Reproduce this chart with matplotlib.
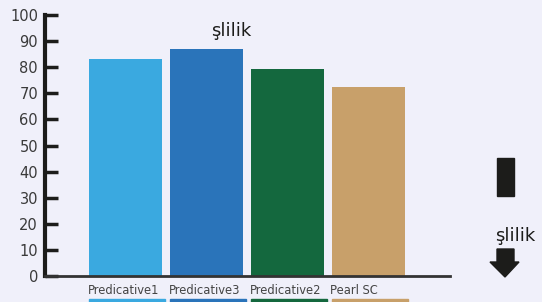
import matplotlib
matplotlib.use("Agg")
import matplotlib.pyplot as plt
from matplotlib.patches import Rectangle, Polygon

categories = ["Predicative1", "Predicative3", "Predicative2", "Pearl SC"]
values = [83, 87, 79.3, 72.4]
colors = ["#3AA9E0", "#2A74BA", "#14683E", "#C8A06A"]
yticks = [0, 10, 20, 30, 40, 50, 60, 70, 80, 90, 100]

bg = "#F0F0FA"
ink = "#1C1C1A"

fig = plt.figure(figsize=(5.42, 3.02), dpi=100, facecolor=bg)
ax = fig.add_axes([45 / 542, 26 / 302, 405 / 542, 261 / 302])
ax.set_facecolor(bg)

x = list(range(len(categories)))
ax.bar(x, values, width=0.9, color=colors)

ax.set_xlim(-0.994, 4.006)
ax.set_ylim(0, 100)
ax.set_yticks(yticks)
ax.set_xticks([])
ax.tick_params(axis="y", direction="in", length=9, width=2.5, color=ink,
               labelsize=10.5, labelcolor="#3A3A3A", pad=5)
for s in ["top", "right"]:
    ax.spines[s].set_visible(False)
ax.spines["left"].set_linewidth(3)
ax.spines["left"].set_color(ink)
ax.spines["bottom"].set_linewidth(2)
ax.spines["bottom"].set_color("#333333")

# category labels and colour strips under the axis
for i, (name, c) in enumerate(zip(categories, colors)):
    ax.text(i - 0.47, -3.2, name, ha="left", va="top", fontsize=8.3,
            color="#444444", clip_on=False)
    ax.add_patch(Rectangle((i - 0.45, -9.0), 0.94, -3, color=c, clip_on=False))

ax.text(1.3, 94, "şlilik", ha="center", va="center", fontsize=13, color=ink)

# side marks
fig.patches.append(Rectangle((497 / 542, 1 - 196 / 302), 17 / 542, 38 / 302,
                             transform=fig.transFigure, color=ink))
fig.text(515 / 542, 1 - 236 / 302, "şlilik", ha="center", va="center",
         fontsize=13, color=ink)
arrow = [(497, 249), (514, 249), (514, 262), (519, 262), (505, 277),
         (490, 262), (497, 262)]
fig.patches.append(Polygon([(px / 542, 1 - py / 302) for px, py in arrow],
                           closed=True, transform=fig.transFigure, color=ink))

fig.savefig("out.png", dpi=100, facecolor=bg)
